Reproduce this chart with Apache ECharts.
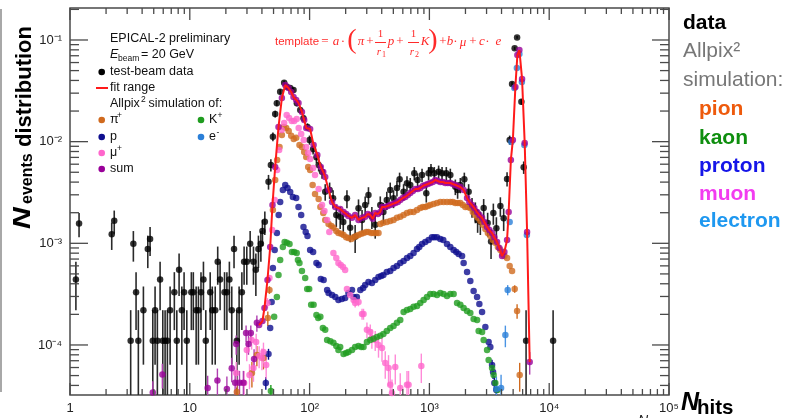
<!DOCTYPE html>
<html>
<head>
<meta charset="utf-8">
<script src="https://cdn.jsdelivr.net/npm/echarts@6.0.0/dist/echarts.min.js"></script>
<style>
html, body { margin: 0; padding: 0; background: #ffffff; }
#chart { width: 787px; height: 418px; }
</style>
</head>
<body>
<div id="chart"></div>
<script>
// EPICAL-2 test beam: N_hits distribution, data vs. Allpix^2 simulation templates
// Each point: [N_hits, fraction of events, optional uncertainty]

const testBeamData = [
  [1.12,4.4e-4,2.2e-4],[1.19,1.57e-3,4.2e-4],[2.23,1.23e-3,3.7e-4],[2.34,1.67e-3,4.3e-4],
  [3.21,1.1e-4,1.1e-4],[3.38,9.9e-4,3.3e-4],[3.56,3.3e-4,1.9e-4],[3.72,1.1e-4,1.1e-4],
  [4.10,2.2e-4,1.56e-4],[4.46,8.8e-4,3.1e-4],[4.66,1.1e-3,3.5e-4],[4.91,1.1e-4,1.1e-4],
  [5.13,2.2e-4,1.56e-4],[5.36,1.1e-4,1.1e-4],[5.65,4.4e-4,2.2e-4],[5.95,1.1e-4,1.1e-4],
  [6.22,1.1e-4,1.1e-4],[6.50,1.1e-4,1.1e-4],[6.85,2.2e-4,1.56e-4],[7.43,3.3e-4,1.9e-4],
  [7.79,1.1e-4,1.1e-4],[8.14,5.5e-4,2.46e-4],[8.58,2.2e-4,1.56e-4],[8.96,3.3e-4,1.9e-4],
  [9.44,1.1e-4,1.1e-4],[10.3,3.3e-4,1.9e-4],[10.7,3.3e-4,1.9e-4],[11.3,2.2e-4,1.56e-4],
  [11.8,2.2e-4,1.56e-4],[12.4,3.3e-4,1.9e-4],[13.0,4.4e-4,2.2e-4],[13.6,1.1e-4,1.1e-4],
  [14.8,3.3e-4,1.9e-4],[15.4,2.2e-4,1.56e-4],[16.3,2.2e-4,1.56e-4],[17.1,6.6e-4,2.69e-4],
  [17.9,4.4e-4,2.2e-4],[19.5,3.3e-4,1.9e-4],[20.4,3.3e-4,1.9e-4],[21.4,4.4e-4,2.2e-4],
  [22.4,2.2e-4,1.56e-4],[23.4,8.8e-4,3.1e-4],[24.7,1.1e-4,1.1e-4],[25.8,2.2e-4,1.56e-4],
  [27.2,3.3e-4,1.9e-4],[28.4,6.6e-4,2.69e-4],[29.9,6.6e-4,2.69e-4],[31.9,9.9e-4,3.3e-4],
  [34.0,6.6e-4,2.69e-4],[35.6,5.5e-4,2.46e-4],[37.4,8.8e-4,3.1e-4],[39.2,9.9e-4,3.3e-4],
  [40.4,1.32e-3,3.81e-4],[42.3,1.63e-3,4.23e-4],[45.4,4.04e-3,6.67e-4],[47.5,5.90e-3,8.06e-4],
  [49.4,1.12e-2,1.11e-3],[51.6,1.87e-2,1.43e-3],[53.3,2.39e-2,1.62e-3],[56.8,3.10e-2,1.85e-3],
  [61.3,3.80e-2,2.04e-3],[64.6,3.47e-2,1.95e-3],[68.9,3.37e-2,1.93e-3],[73.4,3.22e-2,1.88e-3],
  [78.3,2.39e-2,1.62e-3],[83.5,2.05e-2,1.50e-3],[88.9,1.70e-2,1.37e-3],[96.0,1.39e-2,1.23e-3],
  [99.8,1.04e-2,1.07e-3],[107,8.42e-3,9.62e-4],[114,7.02e-3,8.79e-4],[119,5.90e-3,8.06e-4],
  [127,5.07e-3,7.47e-4],[135,3.22e-3,5.95e-4],[147,3.35e-3,6.07e-4],[157,2.77e-3,5.52e-4],
  [167,1.90e-3,4.57e-4],[180,1.83e-3,4.49e-4],[191,1.62e-3,4.22e-4],[205,2.77e-3,5.52e-4],
  [218,1.42e-3,3.95e-4],[240,1.16e-3,3.57e-4],[256,2.21e-3,4.93e-4],[274,1.70e-3,4.32e-4],
  [291,2.38e-3,5.12e-4],[310,2.99e-3,5.73e-4],[331,1.83e-3,4.49e-4],[353,1.52e-3,4.09e-4],
  [389,2.38e-3,5.12e-4],[413,2.03e-3,4.73e-4],[441,2.67e-3,5.42e-4],[471,3.35e-3,6.07e-4],
  [502,2.77e-3,5.52e-4],[536,3.50e-3,6.20e-4],[564,4.27e-3,6.85e-4],[609,3.22e-3,5.95e-4],
  [650,3.90e-3,6.55e-4],[692,3.75e-3,6.42e-4],[748,4.89e-3,7.33e-4],[797,4.20e-3,6.80e-4],
  [868,4.70e-3,7.19e-4],[942,3.10e-3,5.84e-4],[985,4.89e-3,7.33e-4],[1031,5.27e-3,7.61e-4],
  [1099,4.89e-3,7.33e-4],[1194,5.07e-3,7.47e-4],[1275,4.89e-3,7.33e-4],[1384,4.89e-3,7.33e-4],
  [1495,4.70e-3,7.19e-4],[1646,3.61e-3,6.30e-4],[1720,3.35e-3,6.07e-4],[1812,3.75e-3,6.42e-4],
  [1957,4.27e-3,6.85e-4],[2126,3.22e-3,5.95e-4],[2269,2.29e-3,5.02e-4],[2418,2.05e-3,4.75e-4],
  [2527,1.70e-3,4.32e-4],[2662,1.63e-3,4.23e-4],[2838,2.23e-3,4.95e-4],[3064,1.58e-3,4.17e-4],
  [3270,1.04e-3,3.38e-4],[3418,1.99e-3,4.68e-4],[3623,1.41e-3,3.94e-4],[3911,2.33e-3,5.06e-4],
  [4169,1.76e-3,4.40e-4],[4449,4.30e-3,6.88e-4],[4677,1.04e-2,1.07e-3],[4899,3.69e-2,2.01e-3],
  [5150,8.29e-2,3.02e-3],[5395,0.106,3.41e-3],[5859,2.47e-2,1.65e-3],[6124,5.60e-3,7.85e-4],
  [6412,1.1e-4,1.1e-4],[10780,1.1e-4,1.1e-4]
];

const simPion = [
  [24.7,3.45e-5,1.0e-5],[33.0,5.31e-5,1.5e-5],[36.3,7.97e-5,1.8e-5],[41.2,7.45e-5,1.7e-5],
  [44.8,1.84e-4,3.0e-5],[46.2,3.48e-4,3.0e-5],[49.4,2.13e-3],[51.6,4.20e-3],[53.6,6.61e-3],
  [56.1,8.87e-3],[58.7,1.16e-2],[60.8,1.39e-2],[63.8,1.36e-2],[66.9,1.27e-2],[70.2,1.14e-2],
  [73.7,1.06e-2],[77.3,1.09e-2],[82.3,9.28e-3],[86.3,8.87e-3],[90.1,7.92e-3],[93.7,7.07e-3],
  [97.3,5.64e-3],[101,5.27e-3],[106,3.75e-3],[111,3.06e-3],[119,2.73e-3],[123,2.28e-3],
  [130,1.99e-3],[135,1.70e-3],[144,1.55e-3],[152,1.48e-3],[158,1.42e-3],[167,1.32e-3],
  [174,1.26e-3],[184,1.24e-3],[192,1.21e-3],[202,1.15e-3],[211,1.13e-3],[223,1.10e-3],
  [233,1.15e-3],[245,1.18e-3],[256,1.21e-3],[270,1.24e-3],[282,1.26e-3],[297,1.29e-3],
  [310,1.29e-3],[327,1.26e-3],[342,1.26e-3],[360,1.26e-3],[376,1.26e-3],[389,1.55e-3],
  [412,1.59e-3],[441,1.62e-3],[471,1.66e-3],[502,1.70e-3],[536,1.78e-3],[571,1.82e-3],
  [609,1.90e-3],[650,1.99e-3],[692,2.03e-3],[738,2.03e-3],[788,2.13e-3],[839,2.23e-3],
  [881,2.28e-3],[924,2.28e-3],[970,2.33e-3],[1017,2.38e-3],[1084,2.44e-3],[1157,2.49e-3],
  [1233,2.55e-3],[1314,2.55e-3],[1403,2.55e-3],[1495,2.55e-3],[1569,2.55e-3],[1646,2.49e-3],
  [1727,2.49e-3],[1812,2.49e-3],[1901,2.38e-3],[1995,2.28e-3],[2093,2.28e-3],[2196,2.23e-3],
  [2304,2.03e-3],[2418,1.90e-3],[2537,1.78e-3],[2662,1.66e-3],[2793,1.52e-3],[2931,1.38e-3],
  [3075,1.26e-3],[3227,1.18e-3],[3386,1.08e-3],[3552,1.01e-3],[3727,9.21e-4],[3911,8.60e-4],
  [4064,7.86e-4],[4224,7.51e-4],[4449,7.18e-4],[4677,5.99e-4],[4899,5.35e-4],
  [5150,3.56e-4,3.0e-5],[5395,2.16e-4,3.5e-5],[5669,5.07e-5,1.6e-5]
];

const simProton = [
  [43.1,4.23e-5,6e-6],[45.4,8.16e-5,1e-5],[46.9,1.47e-4],[48.2,2.65e-4],[49.4,5.72e-4],
  [51.1,8.60e-4],[53.3,1.26e-3],[55.2,1.90e-3],[56.8,2.55e-3],[59.8,3.35e-3],[62.6,3.75e-3],
  [65.4,3.50e-3],[68.9,3.20e-3],[72.5,2.86e-3],[77.3,2.79e-3],[80.8,2.28e-3],[85.1,1.90e-3],
  [88.9,1.45e-3],[92.8,1.29e-3],[96.0,1.18e-3],[101,8.60e-4],[107,8.22e-4],[114,6.41e-4],
  [119,6.13e-4],[124,4.46e-4],[131,4.36e-4],[140,3.48e-4],[144,3.25e-4],[154,3.10e-4],
  [164,2.97e-4],[174,2.77e-4],[186,2.84e-4],[198,2.90e-4],[211,3.25e-4],[226,3.48e-4],
  [233,2.97e-4],[248,2.97e-4],[265,3.48e-4],[280,3.64e-4],[291,3.89e-4],[310,4.17e-4],
  [331,4.07e-4],[353,4.36e-4],[376,4.67e-4],[396,4.77e-4],[413,4.88e-4],[441,5.23e-4],
  [471,5.35e-4],[502,5.72e-4],[536,5.99e-4],[571,6.41e-4],[609,6.71e-4],[650,7.18e-4],
  [692,7.51e-4],[738,8.04e-4],[788,8.80e-4],[823,9.21e-4],[868,9.86e-4],[924,1.03e-3],
  [985,1.08e-3],[1051,1.15e-3],[1099,1.15e-3],[1157,1.15e-3],[1233,1.10e-3],[1306,1.08e-3],
  [1403,9.86e-4],[1495,9.21e-4],[1593,8.60e-4],[1678,8.22e-4],[1753,7.86e-4],[1873,7.51e-4],
  [1931,6.41e-4],[2062,5.23e-4],[2196,4.26e-4],[2340,3.40e-4],[2499,2.97e-4],[2612,2.53e-4],
  [2751,2.11e-4],[2931,1.50e-4],[3123,1.07e-4],[3227,9.56e-5],[3334,6.36e-5,8e-6],
  [3399,5.43e-5,8e-6],[3485,4.23e-5,7e-6],[3623,3.61e-5,6e-6]
];

const simMuon = [
  [24.4,5.31e-5,1.5e-5],[28.4,4.23e-5,1.3e-5],[29.9,8.93e-5,2.0e-5],[31.5,5.07e-5,1.4e-5],
  [32.8,1.12e-4,2.2e-5],[34.0,5.94e-5,1.6e-5],[35.8,1.07e-4,2.2e-5],[37.9,7.80e-5,1.9e-5],
  [40.0,7.45e-5,1.8e-5],[41.2,8.54e-5,2.0e-5],[43.4,6.36e-5,1.7e-5],[44.5,2.59e-4,3.0e-5],
  [46.2,4.56e-4,3.0e-5],[48.7,1.35e-3],[51.1,2.67e-3],[53.6,5.27e-3],[55.7,8.28e-3],
  [58.5,1.30e-2],[61.3,1.53e-2],[64.4,1.83e-2],[67.5,1.71e-2],[70.9,1.60e-2],[74.4,1.60e-2],
  [78.0,1.67e-2],[81.1,1.36e-2],[85.1,1.19e-2],[89.3,1.04e-2],[93.7,8.87e-3],[97.3,7.74e-3],
  [101,6.76e-3],[107,5.51e-3],[111,4.70e-3],[119,3.42e-3],[127,2.38e-3],[133,2.08e-3],
  [140,1.70e-3],[146,1.29e-3],[158,8.04e-4],[167,7.18e-4],[174,6.41e-4],[182,6.13e-4],
  [190,5.86e-4],[198,5.47e-4],[205,3.56e-4],[218,3.10e-4],[233,2.77e-4,2.0e-5],
  [240,2.59e-4,2.5e-5],[256,2.65e-4,2.5e-5],[274,2.02e-4,2.5e-5],[282,2.02e-4,2.5e-5],
  [301,1.41e-4,2.5e-5],[321,1.34e-4,2.5e-5],[331,1.17e-4,2.5e-5],[353,1.12e-4,2.5e-5],
  [376,1.00e-4,2.5e-5],[402,9.34e-5,2.5e-5],[428,6.65e-5,2.0e-5],[456,5.94e-5,2.0e-5],
  [471,4.05e-5,1.5e-5],[487,3.37e-5,1.2e-5],[519,6.08e-5,2.0e-5],[571,3.78e-5,1.5e-5],
  [650,4.05e-5,1.5e-5],[670,4.05e-5,1.5e-5],[856,6.22e-5,2.0e-5]
];

const simKaon = [
  [47.5,3.53e-5,5e-6],[50.6,1.89e-4],[53.3,2.97e-4],[55.0,4.88e-4],[56.8,6.86e-4],[59.8,9.21e-4],
  [61.9,1.03e-3],[64.6,1.01e-3],[68.0,9.86e-4],[71.2,8.22e-4],[74.4,8.22e-4],[78.0,8.04e-4],
  [79.9,6.86e-4],[82.3,6.41e-4],[86.3,5.35e-4],[91.9,4.56e-4],[95.5,3.56e-4],[99.2,3.56e-4],
  [103,2.48e-4],[108,2.48e-4],[114,1.97e-4],[118,1.84e-4],[123,1.89e-4],[129,1.47e-4],
  [135,1.41e-4],[140,1.12e-4],[149,1.09e-4],[158,1.05e-4],[167,9.78e-5],[174,8.93e-5],
  [180,9.56e-5],[192,8.16e-5],[202,8.34e-5],[211,8.54e-5],[226,8.93e-5],[240,9.56e-5],
  [256,9.78e-5],[270,9.56e-5],[282,9.56e-5],[301,1.07e-4],[321,1.12e-4],[342,1.15e-4],
  [365,1.20e-4],[389,1.23e-4],[413,1.28e-4],[441,1.37e-4],[471,1.47e-4],[502,1.54e-4],
  [536,1.65e-4],[571,1.76e-4],[609,2.11e-4],[650,2.21e-4],[692,2.26e-4],[738,2.37e-4],
  [788,2.42e-4],[839,2.59e-4],[895,2.77e-4],[955,2.97e-4],[1017,3.18e-4],[1084,3.18e-4],
  [1157,3.10e-4],[1233,3.25e-4],[1314,3.18e-4],[1403,3.04e-4],[1495,3.18e-4],[1593,3.18e-4],
  [1701,2.59e-4],[1812,2.48e-4],[1931,2.31e-4],[2062,2.16e-4],[2196,2.06e-4],[2340,1.80e-4],
  [2499,1.76e-4],[2577,1.37e-4],[2751,1.34e-4],[2837,1.12e-4],[3028,8.93e-5],[3123,7.12e-5],
  [3334,5.94e-5],[3438,5.07e-5],[3552,4.23e-5],[3692,3.61e-5]
];

const simElectron = [
  [3623,3.69e-5,1.2e-5],[3965,3.78e-5,1.3e-5],[4306,1.25e-4,3.0e-5],[4502,3.48e-4,4.0e-5],
  [4677,1.62e-3],[4833,9.93e-3],[5120,3.37e-2],[5374,5.30e-2],[5639,7.28e-2],[5913,3.86e-2],
  [6205,9.28e-3],[6511,1.21e-3]
];

// weighted sum of the templates below the fit range
const simSumLow = [
  [4.91,3.40e-5,1.0e-5],[5.90,5.13e-5,1.4e-5],[14.1,3.78e-5,1.2e-5],[17.0,4.46e-5,1.4e-5],
  [20.4,3.69e-5,1.2e-5],[22.4,5.90e-5,1.6e-5],[23.9,4.26e-5,1.3e-5],[24.4,1.02e-4,2.2e-5],
  [26.0,4.26e-5,1.3e-5],[28.0,4.26e-5,1.3e-5],[29.5,1.31e-4,2.4e-5],[30.9,1.02e-4,2.2e-5],
  [32.3,1.31e-4,2.4e-5],[34.4,7.28e-5,1.8e-5],[36.3,1.65e-4,3.0e-5]
];

// weighted sum inside the fit range (also traced by the fit line)
const simSumFit = [
  [37.9,1.57e-4],[40.4,1.72e-4],[42.0,2.31e-4],[44.5,4.36e-4],[46.9,9.21e-4],[49.0,2.38e-3],
  [51.6,5.64e-3],[55.0,1.39e-2],[58.7,2.69e-2],[62.6,3.61e-2],[66.6,3.37e-2],[70.2,3.08e-2],
  [73.4,2.75e-2],[77.3,2.57e-2],[80.8,2.40e-2],[86.3,1.96e-2],[90.1,1.63e-2],[93.7,1.36e-2],
  [101,1.33e-2],[108,9.28e-3],[116,7.40e-3],[124,5.64e-3],[130,5.03e-3],[135,4.49e-3],
  [144,3.35e-3],[154,2.55e-3],[164,2.28e-3],[180,2.18e-3],[192,2.03e-3],[202,1.94e-3],
  [211,1.86e-3],[226,1.78e-3],[240,1.90e-3],[256,1.70e-3],[274,1.78e-3],[291,1.82e-3],
  [306,1.94e-3],[321,1.90e-3],[337,1.74e-3],[353,1.99e-3],[371,1.94e-3],[389,2.03e-3],
  [402,2.28e-3],[428,2.28e-3],[449,2.33e-3],[471,2.38e-3],[495,2.44e-3],[519,2.49e-3],
  [545,2.55e-3],[571,2.67e-3],[599,2.79e-3],[629,2.86e-3],[660,2.99e-3],[692,3.13e-3],
  [727,3.27e-3],[762,3.42e-3],[800,3.42e-3],[839,3.50e-3],[881,3.66e-3],[924,3.75e-3],
  [970,3.83e-3],[1017,3.92e-3],[1068,4.01e-3],[1120,4.20e-3],[1175,4.10e-3],[1233,4.01e-3],
  [1294,4.01e-3],[1358,3.92e-3],[1425,3.92e-3],[1495,3.92e-3],[1569,3.83e-3],[1646,3.75e-3],
  [1727,3.66e-3],[1812,3.58e-3],[1931,3.35e-3],[2062,2.79e-3],[2154,2.55e-3],[2269,2.38e-3],
  [2372,2.23e-3],[2499,2.03e-3],[2612,1.90e-3],[2751,1.78e-3],[2876,1.62e-3],[3028,1.45e-3],
  [3166,1.35e-3],[3334,1.26e-3],[3485,1.15e-3],[3671,1.03e-3],[3837,9.00e-4],[4041,7.51e-4],
  [4224,8.22e-4],[4449,1.08e-3],[4588,2.03e-3],[4787,6.61e-3],[4975,1.04e-2],[5220,3.45e-2],
  [5425,7.12e-2],[5639,7.97e-2],[5936,4.14e-2],[6244,9.71e-3],[6538,1.29e-3],[6874,6.81e-5,1.7e-5]
];

// axis decades and their labels
const xTickValues = [1, 10, 100, 1000, 10000, 100000];
const xTickLabels = ['1', '10', '10\u00b2', '10\u00b3', '10\u2074', '10\u2075'];
const yTickValues = [1e-4, 1e-3, 1e-2, 1e-1];
const yTickLabels = ['10\u207b\u2074', '10\u207b\u00b3', '10\u207b\u00b2', '10\u207b\u00b9'];

const X_MIN = 1, X_MAX = 1e5;
const Y_MIN = 3.22e-5, Y_MAX = 0.2064;

const FONT = '"Liberation Sans", Arial, Helvetica, sans-serif';
const SERIF = '"Liberation Serif", "Times New Roman", serif';
const AXIS_COLOR = '#4a4a4a';

const C = {
  data: '#000000', pion: '#d06a1e', proton: '#0e0e8e', muon: '#ff66cc',
  kaon: '#1f9c1f', electron: '#2a7fd8', sum: '#990099', fit: '#ff1a1a'
};

function decadeLabel(values, labels) {
  return function (v) {
    const lv = Math.log10(v);
    for (let i = 0; i < values.length; i++) {
      if (Math.abs(lv - Math.log10(values[i])) < 1e-6) return labels[i];
    }
    return '';
  };
}

// vertical error bars, clipped to the frame
function errorBars(data, color, width, z) {
  return {
    type: 'custom', data: data, z: z || 2, silent: true, animation: false,
    dimensions: ['x', 'y', 'err'], encode: { x: 0, y: 1 },
    renderItem: function (params, api) {
      const x = api.value(0), y = api.value(1), e = api.value(2);
      if (!(e > 0)) return;
      const lo = Math.max(y - e, Y_MIN), hi = Math.min(y + e, Y_MAX);
      const p1 = api.coord([x, lo]), p2 = api.coord([x, hi]);
      return { type: 'line', shape: { x1: p1[0], y1: p1[1], x2: p2[0], y2: p2[1] },
               style: { stroke: color, lineWidth: width } };
    }
  };
}

function points(data, color, z) {
  return {
    type: 'scatter', data: data, symbol: 'circle', symbolSize: 6.5, z: z || 2,
    itemStyle: { color: color }, silent: true, animation: false
  };
}

// log ticks on all four sides of the frame
const yTickMarks = [];
for (let e = -5; e <= -1; e++) {
  for (let m = 1; m <= 9; m++) {
    const v = m * Math.pow(10, e);
    if (v >= Y_MIN && v <= Y_MAX) yTickMarks.push([1, v, m === 1 ? 1 : 0]);
  }
}
const xTickMarks = [];
for (let e = 0; e <= 4; e++) {
  for (let m = 1; m <= 9; m++) xTickMarks.push([m * Math.pow(10, e), Y_MIN, m === 1 ? 1 : 0]);
}
xTickMarks.push([1e5, Y_MIN, 1]);

const tickStyle = { stroke: AXIS_COLOR, lineWidth: 1.3 };

const yTickSeries = {
  type: 'custom', data: yTickMarks, z: 10, silent: true, animation: false,
  dimensions: ['x', 'y', 'major'], encode: { x: 0, y: 1 },
  renderItem: function (params, api) {
    const cs = params.coordSys;
    const y = api.coord([1, api.value(1)])[1];
    const major = api.value(2) === 1;
    const lenL = major ? 18 : 9, lenR = major ? 17 : 9;
    return { type: 'group', children: [
      { type: 'line', shape: { x1: cs.x, y1: y, x2: cs.x + lenL, y2: y }, style: tickStyle },
      { type: 'line', shape: { x1: cs.x + cs.width - lenR, y1: y, x2: cs.x + cs.width, y2: y }, style: tickStyle }
    ] };
  }
};

const xTickSeries = {
  type: 'custom', data: xTickMarks, z: 10, silent: true, animation: false,
  dimensions: ['x', 'y', 'major'], encode: { x: 0, y: 1 },
  renderItem: function (params, api) {
    const cs = params.coordSys;
    const x = api.coord([api.value(0), Y_MIN])[0];
    const major = api.value(2) === 1;
    const len = major ? 12 : 6;
    return { type: 'group', children: [
      { type: 'line', shape: { x1: x, y1: cs.y + cs.height, x2: x, y2: cs.y + cs.height - len }, style: tickStyle },
      { type: 'line', shape: { x1: x, y1: cs.y, x2: x, y2: cs.y + len }, style: tickStyle }
    ] };
  }
};

// ---- text helpers for the annotations ----
function T(x, y, text, font, fill, align, extra) {
  return Object.assign({
    type: 'text', x: x, y: y, silent: true, z: 20,
    style: { text: text, font: font, fill: fill || '#111',
             textAlign: align || 'left', align: align || 'left',
             textVerticalAlign: 'middle', verticalAlign: 'middle' }
  }, extra || {});
}
function dot(cx, cy, color) {
  return { type: 'circle', silent: true, z: 20, shape: { cx: cx, cy: cy, r: 3.3 }, style: { fill: color } };
}

const LF = '12.5px ' + FONT;
const LFs = '8.5px ' + FONT;
const RED = '#ff2a2a';
const MI = 'italic 13px ' + SERIF;
const MR = '13px ' + SERIF;

const graphics = [
  // thin frame edge at far left
  { type: 'line', silent: true, shape: { x1: 1, y1: 9, x2: 1, y2: 392 }, style: { stroke: '#a8a8a8', lineWidth: 2 } },

  // inner legend
  T(110, 39, 'EPICAL-2 preliminary', LF),
  T(110, 55, 'E', 'italic ' + LF),
  T(118, 59, 'beam', LFs),
  T(141, 55, '= 20 GeV', LF),
  dot(101.7, 72, C.data), T(110, 72, 'test-beam data', LF),
  { type: 'line', silent: true, z: 20, shape: { x1: 96, y1: 88, x2: 108, y2: 88 }, style: { stroke: C.fit, lineWidth: 2 } },
  T(110, 88, 'fit range', LF),
  T(110, 104, 'Allpix', LF), T(141, 100, '2', LFs), T(148.5, 104, 'simulation of:', LF),
  dot(101.7, 120, C.pion), T(110, 120, '\u03c0', LF), T(117, 116, '+', LFs),
  dot(201, 120, C.kaon), T(209, 120, 'K', LF), T(217.5, 116, '+', LFs),
  dot(101.7, 137, C.proton), T(110, 137, 'p', LF),
  dot(201, 137, C.electron), T(209, 137, 'e', LF), T(216.5, 133, '-', LFs),
  dot(101.7, 153, C.muon), T(110, 153, '\u03bc', LF), T(117, 149, '+', LFs),
  dot(101.7, 169, C.sum), T(110, 169, 'sum', LF),

  // fit template formula
  T(275, 42, 'template', '11.5px ' + FONT, RED),
  T(325, 42, '=', MR, RED, 'center'),
  T(336, 42, 'a', MI, RED, 'center'),
  T(343, 42, '\u00b7', MR, RED, 'center'),
  T(352, 41, '(', '28px ' + SERIF, RED, 'center'),
  T(361, 42, '\u03c0', MI, RED, 'center'),
  T(370, 42, '+', MR, RED, 'center'),
  T(380.5, 34, '1', '11px ' + SERIF, RED, 'center'),
  { type: 'line', silent: true, z: 20, shape: { x1: 375, y1: 42.5, x2: 386, y2: 42.5 }, style: { stroke: RED, lineWidth: 1 } },
  T(379, 52, 'r', 'italic 11px ' + SERIF, RED, 'center'), T(384, 55, '1', '8px ' + SERIF, RED, 'center'),
  T(391, 42, 'p', MI, RED, 'center'),
  T(400, 42, '+', MR, RED, 'center'),
  T(413.5, 34, '1', '11px ' + SERIF, RED, 'center'),
  { type: 'line', silent: true, z: 20, shape: { x1: 408, y1: 42.5, x2: 419, y2: 42.5 }, style: { stroke: RED, lineWidth: 1 } },
  T(412, 52, 'r', 'italic 11px ' + SERIF, RED, 'center'), T(417, 55, '2', '8px ' + SERIF, RED, 'center'),
  T(425, 42, 'K', MI, RED, 'center'),
  T(433, 41, ')', '28px ' + SERIF, RED, 'center'),
  T(443, 42, '+', MR, RED, 'center'),
  T(450, 42, 'b', MI, RED, 'center'),
  T(455.5, 42, '\u00b7', MR, RED, 'center'),
  T(463, 43, '\u03bc', MI, RED, 'center'),
  T(473, 42, '+', MR, RED, 'center'),
  T(482, 42, 'c', MI, RED, 'center'),
  T(487.5, 42, '\u00b7', MR, RED, 'center'),
  T(498.5, 42, 'e', MI, RED, 'center'),

  // right-hand legend
  T(683, 23, 'data', 'bold 21px ' + FONT, '#000'),
  T(683, 51, 'Allpix\u00b2', '21px ' + FONT, '#777777'),
  T(683, 80, 'simulation:', '21px ' + FONT, '#777777'),
  T(699, 109, 'pion', 'bold 21px ' + FONT, '#ee5a0c'),
  T(699, 138, 'kaon', 'bold 21px ' + FONT, '#0e8e0e'),
  T(699, 166, 'proton', 'bold 21px ' + FONT, '#1515e8'),
  T(699, 194, 'muon', 'bold 21px ' + FONT, '#f23cf0'),
  T(699, 221, 'electron', 'bold 21px ' + FONT, '#1e98f0'),

  // y-axis title, reading bottom to top
  T(23.5, 229, 'N', 'italic bold 24px ' + FONT, '#000', 'left', { rotation: Math.PI / 2, scaleX: 1.25 }),
  T(28, 204, 'events', 'bold 16px ' + FONT, '#000', 'left', { rotation: Math.PI / 2 }),
  T(25, 147, 'distribution', 'bold 22px ' + FONT, '#000', 'left', { rotation: Math.PI / 2 }),

  // x-axis title
  T(681, 403.5, 'N', 'italic bold 25px ' + FONT, '#000'),
  T(697, 408, 'hits', 'bold 20.5px ' + FONT, '#000'),
  T(638, 421, 'N', 'italic 14px ' + FONT, '#222')
];

const chart = echarts.init(document.getElementById('chart'), null, { renderer: 'canvas' });

chart.setOption({
  animation: false,
  backgroundColor: '#ffffff',
  grid: { left: 70, right: 118, top: 8, bottom: 23, show: true,
          borderColor: AXIS_COLOR, borderWidth: 1.5, backgroundColor: 'transparent' },
  xAxis: {
    type: 'log', logBase: 10, min: X_MIN, max: X_MAX,
    axisLine: { show: false }, axisTick: { show: false }, splitLine: { show: false },
    axisLabel: { formatter: decadeLabel(xTickValues, xTickLabels), fontSize: 13, color: '#222',
                 fontFamily: FONT, margin: 7, showMinLabel: true, showMaxLabel: true, interval: 0 }
  },
  yAxis: {
    type: 'log', logBase: 10, min: Y_MIN, max: Y_MAX,
    axisLine: { show: false }, axisTick: { show: false }, splitLine: { show: false },
    axisLabel: { formatter: decadeLabel(yTickValues, yTickLabels), fontSize: 13, color: '#222',
                 fontFamily: FONT, margin: 8, showMinLabel: false, showMaxLabel: false, interval: 0 }
  },
  graphic: graphics,
  series: [
    errorBars(testBeamData, '#2a2a2a', 1.6),
    points(testBeamData, C.data),
    errorBars(simPion, C.pion, 1.4),
    points(simPion, C.pion),
    errorBars(simProton, C.proton, 1.4),
    points(simProton, C.proton),
    errorBars(simMuon, '#ff8ad8', 1.4),
    points(simMuon, C.muon),
    errorBars(simKaon, C.kaon, 1.4),
    points(simKaon, C.kaon),
    errorBars(simElectron, '#4a94e4', 1.4),
    points(simElectron, C.electron),
    errorBars(simSumLow.concat(simSumFit), '#b040b0', 1.4),
    points(simSumLow.concat(simSumFit), C.sum),
    {
      type: 'line', data: simSumFit, symbol: 'none', z: 3, silent: true, animation: false,
      lineStyle: { color: C.fit, width: 2 }
    },
    xTickSeries,
    yTickSeries
  ]
});
</script>
</body>
</html>
